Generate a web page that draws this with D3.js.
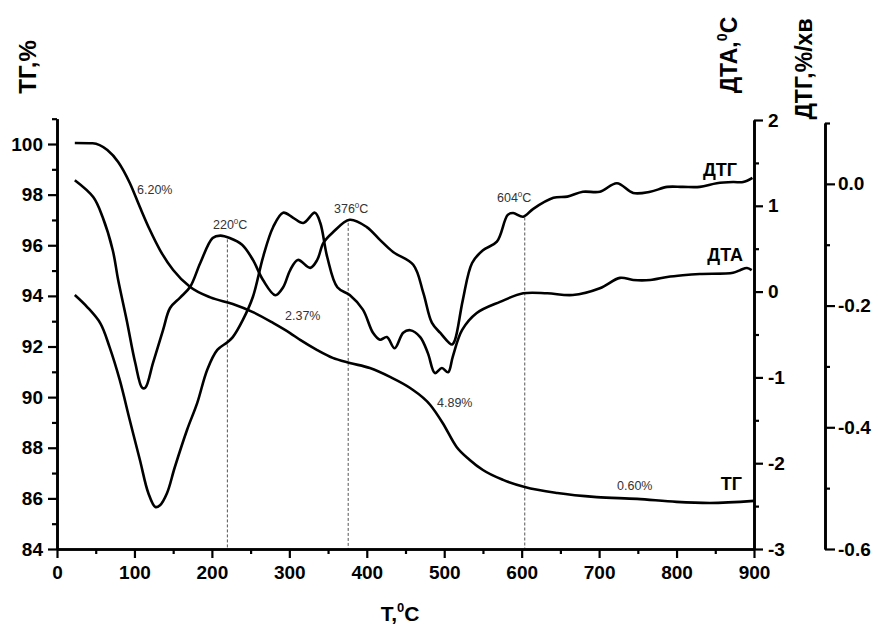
<!DOCTYPE html>
<html>
<head>
<meta charset="utf-8">
<script src="https://cdn.jsdelivr.net/npm/d3@7"></script>
<style>
	body { margin: 0; background: #fff; }
	svg text { font-family: "Liberation Sans", Arial, sans-serif; }
</style>
</head>
<body>
<svg id="chart" width="878" height="628"></svg>
<script>
// TG curve, % (left axis)
var tgTemp  = [23, 46, 65, 79, 94, 107, 120, 133, 150, 172, 198, 227, 253, 279, 301, 314, 336, 356, 378, 404,
	430, 456, 482, 498, 516, 533, 550, 576, 604, 646, 697, 749, 800, 843, 900];
var tgValue = [100.04, 100.03, 99.76, 99.29, 98.46, 97.51, 96.6, 95.81, 95.02, 94.35, 93.94, 93.68, 93.36, 92.93,
	92.53, 92.26, 91.86, 91.55, 91.35, 91.15, 90.8, 90.36, 89.69, 88.98, 88.03, 87.52, 87.12, 86.73, 86.45,
	86.21, 86.05, 85.98, 85.86, 85.82, 85.9];

// DTA curve, 0C (first right axis)
var dtaTemp  = [23, 39, 56, 68, 81, 94, 107, 118, 127, 133, 142, 152, 168, 181, 194, 207, 220, 227, 240, 253,
	266, 279, 292, 305, 318, 333, 340, 349, 362, 378, 395, 408, 417, 426, 436, 447, 456, 469, 479, 488,
	497, 505, 511, 523, 542, 572, 602, 633, 666, 701, 727, 744, 766, 788, 808, 830, 873, 882, 891, 897];
var dtaValue = [-0.04, -0.18, -0.37, -0.65, -1.03, -1.5, -1.96, -2.35, -2.51, -2.49, -2.35, -2.05, -1.61, -1.3,
	-0.91, -0.68, -0.59, -0.53, -0.33, -0.06, 0.4, 0.75, 0.92, 0.86, 0.8, 0.92, 0.8, 0.4, 0.05, -0.04,
	-0.21, -0.48, -0.56, -0.53, -0.66, -0.48, -0.45, -0.53, -0.72, -0.95, -0.89, -0.94, -0.76, -0.45,
	-0.25, -0.12, -0.02, -0.02, -0.04, 0.04, 0.16, 0.135, 0.135, 0.17, 0.19, 0.205, 0.22, 0.25, 0.275, 0.25];

// DTG curve, %/xв (second right axis)
var dtgTemp  = [23, 47, 59, 72, 79, 90, 101, 110, 114, 124, 137, 146, 159, 172, 185, 201, 211, 223, 239, 253,
	266, 282, 292, 301, 311, 327, 336, 344, 356, 378, 400, 417, 434, 460, 473, 484, 495, 510, 514, 524,
	536, 550, 568, 582, 589, 602, 615, 641, 659, 679, 701, 723, 744, 766, 788, 808, 830, 852, 873, 886, 898];
var dtgValue = [0.006, -0.022, -0.055, -0.109, -0.158, -0.224, -0.294, -0.335, -0.335, -0.294, -0.24, -0.204,
	-0.187, -0.169, -0.13, -0.089, -0.085, -0.089, -0.1, -0.125, -0.158, -0.183, -0.17, -0.142, -0.125,
	-0.138, -0.125, -0.097, -0.08, -0.059, -0.071, -0.092, -0.112, -0.133, -0.179, -0.228, -0.245, -0.264,
	-0.256, -0.191, -0.13, -0.109, -0.095, -0.051, -0.048, -0.054, -0.041, -0.023, -0.021, -0.013, -0.013,
	0.001, -0.015, -0.013, -0.005, -0.005, -0.005, 0.001, 0.003, 0.003, 0.01];

// ticks
var xMajor = [0, 100, 200, 300, 400, 500, 600, 700, 800, 900];
var xMinor = [50, 150, 250, 350, 450, 550, 650, 750, 850];
var tgMajor = [84, 86, 88, 90, 92, 94, 96, 98, 100];
var tgMinor = [85, 87, 89, 91, 93, 95, 97, 99, 101];
var dtaMajor = [-3, -2, -1, 0, 1, 2];
var dtaMinor = [-2.5, -1.5, -0.5, 0.5, 1.5];
var dtgMajor = [-0.6, -0.4, -0.2, 0];
var dtgMinor = [-0.5, -0.3, -0.1, 0.1];

// peak temperatures (dashed lines) and mass losses
var peakTemps = [220, 376, 604];
var lossTexts = ["6.20%", "2.37%", "4.89%", "0.60%"];

var svg = d3.select("#chart");

var x = d3.scaleLinear().domain([0, 900]).range([57, 754]);
var yTg = d3.scaleLinear().domain([84, 101]).range([549, 118.7]);
var yDta = d3.scaleLinear().domain([-3, 2]).range([549, 120]);
var yDtg = d3.scaleLinear().domain([-0.6, 0.1]).range([549, 123]);

var dtgAxisX = 825;

//linear lookup along a series, used for the tops of dashed lines
function valueAt(temps, vals, t) {
	var i = d3.bisectLeft(temps, t);
	if (i <= 0) return vals[0];
	if (i >= temps.length) return vals[vals.length - 1];
	var k = (t - temps[i - 1]) / (temps[i] - temps[i - 1]);
	return vals[i - 1] + k * (vals[i] - vals[i - 1]);
}

/*****dashed peak lines*****/
svg.selectAll("line.peak").data(peakTemps).enter().append("line")
	.attr("class", "peak")
	.attr("x1", function(d) { return x(d); })
	.attr("x2", function(d) { return x(d); })
	.attr("y1", function(d) { return yDtg(valueAt(dtgTemp, dtgValue, d)) + 2; })
	.attr("y2", yTg(84))
	.attr("stroke", "#555")
	.attr("stroke-width", 1)
	.attr("stroke-dasharray", "3,2");

/*****curves*****/
function drawCurve(temps, vals, yScale, curve) {
	var line = d3.line()
		.x(function(d) { return x(d[0]); })
		.y(function(d) { return yScale(d[1]); })
		.curve(curve);
	svg.append("path")
		.datum(d3.zip(temps, vals))
		.attr("d", line)
		.attr("fill", "none")
		.attr("stroke", "#000")
		.attr("stroke-width", 2.6)
		.attr("stroke-linejoin", "round");
}
drawCurve(tgTemp, tgValue, yTg, d3.curveMonotoneX);	//TG falls steadily, no overshoot
drawCurve(dtaTemp, dtaValue, yDta, d3.curveCatmullRom.alpha(0.5));
drawCurve(dtgTemp, dtgValue, yDtg, d3.curveCatmullRom.alpha(0.5));

/*****axes*****/
function styleAxis(g) {
	g.selectAll("path.domain").attr("stroke-width", 2.6);
	g.selectAll(".tick line").attr("stroke-width", 2.2);
	g.selectAll("text")
		.attr("font-size", 19)
		.attr("font-weight", "bold")
		.attr("fill", "#000")
		.style("font-family", '"Liberation Sans", Arial, sans-serif');
}

function addAxis(axisMaker, scale, major, minor, fmt, translate, size, pad) {
	var gMinor = svg.append("g").attr("transform", translate)
		.call(axisMaker(scale).tickValues(minor).tickSize(5).tickSizeOuter(0).tickFormat(""));
	var gMajor = svg.append("g").attr("transform", translate)
		.call(axisMaker(scale).tickValues(major).tickSize(size).tickSizeOuter(0).tickPadding(pad).tickFormat(fmt));
	styleAxis(gMinor);
	styleAxis(gMajor);
}

addAxis(d3.axisBottom, x, xMajor, xMinor, function(d) { return String(d); }, "translate(0," + yTg(84) + ")", 9, 8);
addAxis(d3.axisLeft, yTg, tgMajor, tgMinor, function(d) { return String(d); }, "translate(57,0)", 9, 5);
addAxis(d3.axisRight, yDta, dtaMajor, dtaMinor, function(d) { return String(d); }, "translate(754,0)", 9, 5);
addAxis(d3.axisRight, yDtg, dtgMajor, dtgMinor, function(d) { return d.toFixed(1); }, "translate(" + dtgAxisX + ",0)", 10, 3);

/*****axis titles*****/
function title(tx, ty, rot, parts, size) {
	var t = svg.append("text")
		.attr("transform", "translate(" + tx + "," + ty + ")" + (rot ? " rotate(-90)" : ""))
		.attr("text-anchor", "middle")
		.attr("font-weight", "bold")
		.attr("font-size", size);
	parts.forEach(function(p) {
		var s = t.append("tspan").text(p[0]);
		if (p[1] === "sup") s.attr("font-size", size * 0.62).attr("dy", -size * 0.42);
		if (p[1] === "down") s.attr("dy", size * 0.42);
	});
}
title(36, 67, true, [["ТГ,%"]], 24);
title(737, 55, true, [["ДТА,"], ["0", "sup"], ["С", "down"]], 23);
title(812, 69, true, [["ДТГ,%/хв"]], 23);
title(400, 621, false, [["T,"], ["0", "sup"], ["C", "down"]], 21);

/*****curve names*****/
var curveNames = ["ДТГ", "ДТА", "ТГ"];
var nameX = [737, 743, 742];
var nameY = [176, 261, 490];
svg.selectAll("text.name").data(curveNames).enter().append("text")
	.attr("class", "name")
	.attr("x", function(d, i) { return nameX[i]; })
	.attr("y", function(d, i) { return nameY[i]; })
	.attr("text-anchor", "end")
	.attr("font-weight", "bold")
	.attr("font-size", 18)
	.text(function(d) { return d; });

/*****notes*****/
function note(nx, ny, parts) {
	var t = svg.append("text")
		.attr("x", nx).attr("y", ny)
		.attr("font-size", 12.5)
		.attr("fill", "#333");
	parts.forEach(function(p) {
		var s = t.append("tspan").text(p[0]);
		if (p[1] === "sup") s.attr("font-size", 8).attr("dy", -5);
		if (p[1] === "down") s.attr("dy", 5);
	});
}
var lossX = [137, 285, 437, 617];
var lossY = [194, 320, 407, 490];
lossTexts.forEach(function(d, i) { note(lossX[i], lossY[i], [[d]]); });

var peakNoteX = [213, 334, 497];
var peakNoteY = [229, 213, 202];
peakTemps.forEach(function(d, i) {
	note(peakNoteX[i], peakNoteY[i], [[String(d)], ["0", "sup"], ["C", "down"]]);
});
</script>
</body>
</html>
